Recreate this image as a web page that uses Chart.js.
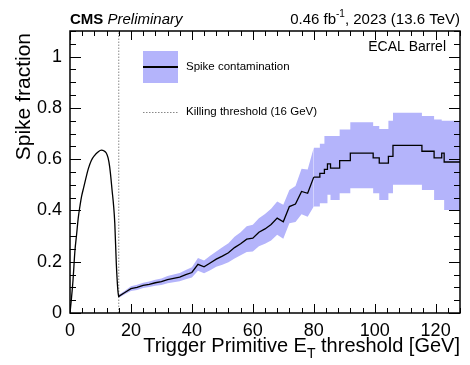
<!DOCTYPE html>
<html>
<head>
<meta charset="utf-8">
<title>Spike fraction - ECAL Barrel</title>
<script src="https://cdn.jsdelivr.net/npm/chart.js@4.4.0/dist/chart.umd.min.js"></script>
<style>
  html, body { margin: 0; padding: 0; background: #fff; }
  #wrap { width: 470px; height: 365px; position: relative; }
</style>
</head>
<body>
<div id="wrap"><canvas id="spike-chart" width="470" height="365"></canvas></div>
<script>
// Rising part below the killing threshold (ET in GeV, fraction)
const riseEt = [0, 0.5, 1, 1.6, 2.2, 2.7, 3.3, 3.8, 4.5, 5.2, 6, 7, 8.1, 9.2, 10.3, 11.2, 11.9, 12.5, 13, 13.4, 13.8, 14.3, 14.7, 15.2, 15.7, 16];
const riseFrac = [0, 0.06, 0.13, 0.24, 0.31, 0.37, 0.42, 0.455, 0.49, 0.525, 0.562, 0.595, 0.615, 0.628, 0.635, 0.632, 0.624, 0.605, 0.572, 0.53, 0.48, 0.42, 0.35, 0.193, 0.09, 0.062];

// Spike contamination, finely binned part (16-80 GeV)
const lowEt = [16, 18, 20, 22, 24, 26, 28, 30, 32, 34, 36, 38, 40, 42, 44, 46, 48, 50, 52, 54, 56, 58, 60, 62, 64, 66, 68, 70, 72, 74, 76, 78, 80];
const lowFrac = [0.065, 0.08, 0.095, 0.10, 0.108, 0.112, 0.118, 0.122, 0.13, 0.135, 0.14, 0.15, 0.158, 0.19, 0.18, 0.195, 0.21, 0.222, 0.235, 0.255, 0.27, 0.288, 0.292, 0.315, 0.328, 0.345, 0.37, 0.356, 0.415, 0.425, 0.474, 0.467, 0.53];
const lowBandLo = [0.059, 0.073, 0.086, 0.09, 0.098, 0.101, 0.106, 0.109, 0.116, 0.12, 0.124, 0.132, 0.138, 0.165, 0.155, 0.167, 0.18, 0.188, 0.198, 0.213, 0.225, 0.238, 0.24, 0.26, 0.27, 0.283, 0.305, 0.29, 0.35, 0.355, 0.385, 0.375, 0.415];
const lowBandHi = [0.071, 0.087, 0.104, 0.11, 0.118, 0.123, 0.13, 0.135, 0.144, 0.15, 0.156, 0.168, 0.178, 0.215, 0.205, 0.223, 0.24, 0.256, 0.272, 0.297, 0.315, 0.338, 0.344, 0.37, 0.386, 0.407, 0.435, 0.422, 0.48, 0.495, 0.563, 0.56, 0.645];

// Spike contamination, wide bins (80-128 GeV): bin low edges
const highEt = [80, 82, 83.5, 84.5, 85.5, 88.5, 92, 99.5, 101.5, 104.5, 106, 115.5, 119.5, 122, 122.8, 128];
const highFrac = [0.53, 0.545, 0.56, 0.582, 0.565, 0.594, 0.624, 0.605, 0.585, 0.611, 0.654, 0.631, 0.605, 0.624, 0.589, 0.589];
const highBandLo = [0.415, 0.428, 0.428, 0.461, 0.441, 0.467, 0.487, 0.467, 0.441, 0.467, 0.5, 0.48, 0.441, 0.441, 0.402, 0.402];
const highBandHi = [0.645, 0.66, 0.69, 0.69, 0.69, 0.716, 0.744, 0.729, 0.718, 0.75, 0.781, 0.768, 0.755, 0.75, 0.75, 0.75];

// Killing threshold
const thresholdEt = 16;
const xTicks = [0, 20, 40, 60, 80, 100, 120];
const yTicks = [0, 0.2, 0.4, 0.6, 0.8, 1];

const FONT = '"Liberation Sans", Arial, Helvetica, sans-serif';
const BAND = 'rgb(180,180,251)';

function points(xs, ys) {
  return xs.map((x, i) => ({ x: x, y: ys[i] }));
}

// Band pair (upper fills down to lower) for one part of the curve
function bandSets(xs, lo, hi, stepped) {
  return [
    {
      label: 'band up',
      data: points(xs, hi),
      stepped: stepped,
      borderWidth: 0,
      borderColor: 'rgba(0,0,0,0)',
      backgroundColor: BAND,
      pointRadius: 0,
      fill: '+1',
      order: 3
    },
    {
      label: 'band down',
      data: points(xs, lo),
      stepped: stepped,
      borderWidth: 0,
      borderColor: 'rgba(0,0,0,0)',
      pointRadius: 0,
      fill: false,
      order: 3
    }
  ];
}

function lineSet(xs, ys, extra) {
  return Object.assign({
    label: 'Spike contamination',
    data: points(xs, ys),
    borderColor: '#000',
    borderWidth: 1.3,
    pointRadius: 0,
    fill: false,
    order: 1
  }, extra);
}

// ROOT-like frame, inward ticks and all text annotations
const rootStyle = {
  id: 'rootStyle',
  afterDraw(chart) {
    const ctx = chart.ctx;
    const area = chart.chartArea;
    const xs = chart.scales.x;
    const ys = chart.scales.y;

    ctx.save();
    ctx.strokeStyle = '#000';
    ctx.lineWidth = 1;

    // x ticks on bottom and top
    for (let v = 0; v <= xs.max; v += 4) {
      const px = Math.round(xs.getPixelForValue(v)) + 0.5;
      const len = v % 20 === 0 ? 9 : 5;
      ctx.beginPath();
      ctx.moveTo(px, area.bottom); ctx.lineTo(px, area.bottom - len);
      ctx.moveTo(px, area.top); ctx.lineTo(px, area.top + len);
      ctx.stroke();
    }
    // y ticks on left and right
    for (let i = 0; i * 0.05 <= ys.max + 1e-9; i++) {
      const py = Math.round(ys.getPixelForValue(i * 0.05)) + 0.5;
      const len = i % 4 === 0 ? 11 : 6;
      ctx.beginPath();
      ctx.moveTo(area.left, py); ctx.lineTo(area.left + len, py);
      ctx.moveTo(area.right, py); ctx.lineTo(area.right - len, py);
      ctx.stroke();
    }

    ctx.lineWidth = 1.5;
    ctx.strokeRect(area.left, area.top, area.right - area.left, area.bottom - area.top);

    ctx.fillStyle = '#000';
    ctx.textBaseline = 'alphabetic';

    // Header
    ctx.textAlign = 'left';
    ctx.font = 'bold 15px ' + FONT;
    ctx.fillText('CMS', area.left, 24);
    const cmsW = ctx.measureText('CMS ').width;
    ctx.font = 'italic 15px ' + FONT;
    ctx.fillText('Preliminary', area.left + cmsW, 24);

    ctx.font = '15px ' + FONT;
    const rest = ', 2023 (13.6 TeV)';
    const restW = ctx.measureText(rest).width;
    ctx.font = '10px ' + FONT;
    const supW = ctx.measureText('-1').width;
    ctx.font = '15px ' + FONT;
    const lumiW = ctx.measureText('0.46 fb').width;
    let x0 = area.right - restW - supW - lumiW;
    ctx.fillText('0.46 fb', x0, 24);
    ctx.font = '10px ' + FONT;
    ctx.fillText('-1', x0 + lumiW, 17);
    ctx.font = '15px ' + FONT;
    ctx.fillText(rest, x0 + lumiW + supW, 24);

    // ECAL Barrel label
    ctx.textAlign = 'right';
    ctx.font = '14px ' + FONT;
    ctx.fillText('ECAL Barrel', area.right - 14, 51);

    // Legend
    const lx = area.left + 73;
    ctx.fillStyle = BAND;
    ctx.fillRect(lx, 51, 35, 32);
    ctx.strokeStyle = '#000';
    ctx.lineWidth = 2;
    ctx.beginPath(); ctx.moveTo(lx, 67); ctx.lineTo(lx + 35, 67); ctx.stroke();
    ctx.strokeStyle = '#888';
    ctx.lineWidth = 1;
    ctx.setLineDash([1.5, 1.5]);
    ctx.beginPath(); ctx.moveTo(lx, 112.5); ctx.lineTo(lx + 35, 112.5); ctx.stroke();
    ctx.setLineDash([]);
    ctx.fillStyle = '#000';
    ctx.textAlign = 'left';
    ctx.textBaseline = 'middle';
    ctx.font = '11.5px ' + FONT;
    ctx.fillText('Spike contamination', lx + 43, 67);
    ctx.fillText('Killing threshold (16 GeV)', lx + 43, 112);

    // x axis title with subscript T, right aligned
    ctx.textBaseline = 'alphabetic';
    const a = 'Trigger Primitive E';
    const b = ' threshold [GeV]';
    ctx.font = '20px ' + FONT;
    const aW = ctx.measureText(a).width;
    const bW = ctx.measureText(b).width;
    ctx.font = '14px ' + FONT;
    const tW = ctx.measureText('T').width;
    let tx = area.right - bW - tW - aW;
    ctx.font = '20px ' + FONT;
    ctx.fillText(a, tx, 352);
    ctx.font = '14px ' + FONT;
    ctx.fillText('T', tx + aW, 358);
    ctx.font = '20px ' + FONT;
    ctx.fillText(b, tx + aW + tW, 352);

    // y axis title, aligned to the top
    ctx.save();
    ctx.translate(24, area.top + 2);
    ctx.rotate(-Math.PI / 2);
    ctx.textAlign = 'right';
    ctx.textBaseline = 'middle';
    ctx.font = '21px ' + FONT;
    ctx.fillText('Spike fraction', 0, 0);
    ctx.restore();

    ctx.restore();
  }
};

document.addEventListener('DOMContentLoaded', () => {
  const ctx = document.getElementById('spike-chart').getContext('2d');

  const datasets = []
    .concat(bandSets(lowEt, lowBandLo, lowBandHi, false))
    .concat(bandSets(highEt, highBandLo, highBandHi, 'before'))
    .concat([
      lineSet(lowEt, lowFrac, {}),
      lineSet(highEt, highFrac, { stepped: 'before' }),
      lineSet(riseEt, riseFrac, { label: 'rise', cubicInterpolationMode: 'monotone' }),
      {
        label: 'Killing threshold (16 GeV)',
        data: [{ x: thresholdEt, y: 0 }, { x: thresholdEt, y: 1.1 }],
        borderColor: '#888',
        borderWidth: 1,
        borderDash: [1.5, 1.5],
        pointRadius: 0,
        fill: false,
        order: 2
      }
    ]);

  new Chart(ctx, {
    type: 'line',
    data: { datasets: datasets },
    options: {
      responsive: false,
      animation: false,
      events: [],
      layout: { padding: { left: 0, right: 10, top: 31, bottom: 0 } },
      plugins: {
        legend: { display: false },
        tooltip: { enabled: false },
        title: { display: false }
      },
      scales: {
        x: {
          type: 'linear',
          min: 0,
          max: 128,
          afterFit(scale) { scale.height = 52; },
          afterBuildTicks(scale) { scale.ticks = xTicks.map(v => ({ value: v })); },
          grid: { display: false, drawTicks: false },
          border: { display: false },
          ticks: {
            color: '#000',
            padding: 7,
            maxRotation: 0,
            font: { family: FONT, size: 18 }
          }
        },
        y: {
          type: 'linear',
          min: 0,
          max: 1.1,
          afterFit(scale) { scale.width = 70; },
          afterBuildTicks(scale) { scale.ticks = yTicks.map(v => ({ value: v })); },
          grid: { display: false, drawTicks: false },
          border: { display: false },
          ticks: {
            color: '#000',
            padding: 8,
            font: { family: FONT, size: 18 },
            callback: function(value) {
              return String(parseFloat(value.toFixed(2)));
            }
          }
        }
      }
    },
    plugins: [rootStyle]
  });
});
</script>
</body>
</html>
